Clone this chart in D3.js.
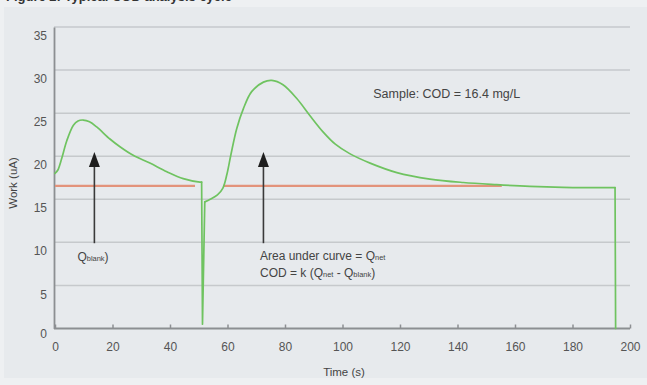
<!DOCTYPE html>
<html>
<head>
<meta charset="utf-8">
<script src="https://cdn.jsdelivr.net/npm/d3@7"></script>
<style>
  html, body { margin: 0; padding: 0; background: #eef0f2; }
  svg { display: block; font-family: "Liberation Sans", Arial, Helvetica, sans-serif; }
</style>
</head>
<body>
<svg id="chart" width="647" height="385"></svg>
<script>
// ---- data ----
// blank injection hump
const blankTime = [0, 1, 2.3, 4.1, 6.4, 8, 9.8, 12, 14.5, 19.1, 22.6, 27.2, 33.0, 38.9, 44.6, 50.4, 51.0];
const blankWork = [18.0, 18.4, 19.7, 21.8, 23.6, 24.1, 24.2, 24.0, 23.4, 22.0, 21.1, 20.1, 19.2, 18.2, 17.4, 17.0, 17.0];
// switch-over dip
const dipTime = [51.0, 51.3, 52.1];
const dipWork = [17.0, 0.5, 14.7];
// sample injection hump
const sampleTime = [52.1, 54, 56.5, 58.4, 59.8, 61.2, 63.2, 65.5, 68.4, 72.5, 75.4, 79.3, 84.1, 88.7, 93.3,
  97.5, 102.5, 109.6, 118.9, 130.4, 142, 153.6, 165.2, 176.7, 185, 194.8];
const sampleWork = [14.7, 15.0, 15.5, 16.3, 17.9, 20.2, 23.2, 25.5, 27.5, 28.6, 28.8, 28.3, 26.7, 24.7, 22.8,
  21.4, 20.3, 19.2, 18.1, 17.35, 16.95, 16.7, 16.5, 16.38, 16.35, 16.35];
// end of measurement drop
const endTime = [194.8, 195.0];
const endWork = [16.35, 0];
const baselineStart = [0, 58.5];
const baselineEnd = [48.7, 155.4];
const baselineValue = 16.55;
const arrowTimes = [13.7, 72.5];
const arrowFrom = 9.9, arrowTo = 20.5;
const xTicks = [0, 20, 40, 60, 80, 100, 120, 140, 160, 180, 200];
const yTicks = [0, 5, 10, 15, 20, 25, 30, 35];
const xTitle = "Time (s)";
const yTitle = "Work (uA)";
const chartTitle = "Figure 2: Typical COD analysis cycle";
const sampleLabel = "Sample: COD = 16.4 mg/L";

// ---- drawing ----
const svg = d3.select("#chart");
const W = 647, H = 385;

svg.append("rect").attr("x", 0).attr("y", 0).attr("width", W).attr("height", H).attr("fill", "#eef0f2");
svg.append("rect").attr("x", 4).attr("y", 7).attr("width", W - 4).attr("height", 371).attr("fill", "#e7eaed");

svg.append("text").attr("x", 6).attr("y", 0.5)
  .attr("font-size", 13).attr("font-weight", "bold").attr("fill", "#333")
  .text(chartTitle);

const x = d3.scaleLinear().domain([0, 200]).range([55, 630]);
const y = d3.scaleLinear().domain([0, 35]).range([328.5, 27]);

// grid lines
svg.append("g").selectAll("line").data(yTicks.filter(d => d > 0)).join("line")
  .attr("x1", 54).attr("x2", 630)
  .attr("y1", d => y(d)).attr("y2", d => y(d))
  .attr("stroke", "#c6c9cc").attr("stroke-width", 1.5);

// y axis
const yAxis = svg.append("g").attr("transform", "translate(54,0)")
  .call(d3.axisLeft(y).tickValues(yTicks).tickSize(0).tickPadding(7));
yAxis.select(".domain").attr("stroke", "#8c8f92").attr("stroke-width", 1.8);
yAxis.selectAll("text").attr("font-size", 12).attr("fill", "#555")
  .attr("font-family", "Liberation Sans, Arial, sans-serif")
  .attr("dy", d => d === 0 ? "0.75em" : "1.05em");

// x axis
const xAxis = svg.append("g").attr("transform", "translate(0,328.5)")
  .call(d3.axisBottom(x).tickValues(xTicks).tickSizeInner(-4).tickSizeOuter(0).tickPadding(14));
xAxis.select(".domain").attr("stroke", "#8c8f92").attr("stroke-width", 1.8)
  .attr("d", "M54,0H630");
xAxis.selectAll(".tick line").attr("stroke", "#8c8f92").attr("stroke-width", 1.5);
xAxis.selectAll("text").attr("font-size", 12).attr("fill", "#555")
  .attr("font-family", "Liberation Sans, Arial, sans-serif");

// baseline (red) segments
svg.append("g").selectAll("line").data(baselineStart).join("line")
  .attr("x1", d => x(d)).attr("x2", (d, i) => x(baselineEnd[i]))
  .attr("y1", y(baselineValue)).attr("y2", y(baselineValue))
  .attr("stroke", "#e3937b").attr("stroke-width", 2.2);

// green curve, drawn as smooth humps joined by straight drops
const smooth = d3.line().x(d => x(d[0])).y(d => y(d[1])).curve(d3.curveCatmullRom.alpha(0.5));
const straight = d3.line().x(d => x(d[0])).y(d => y(d[1]));
const segs = [
  [blankTime, blankWork, smooth],
  [dipTime, dipWork, straight],
  [sampleTime, sampleWork, smooth],
  [endTime, endWork, straight]
];
const cg = svg.append("g");
segs.forEach(([tt, ww, gen]) => {
  cg.append("path").datum(tt.map((t, i) => [t, ww[i]]))
    .attr("fill", "none").attr("stroke", "#6fc360").attr("stroke-width", 1.7)
    .attr("stroke-linejoin", "round").attr("stroke-linecap", "round")
    .attr("d", gen);
});

// arrows
const ag = svg.append("g");
arrowTimes.forEach(t => {
  const ax = x(t), yb = y(arrowFrom), yt = y(arrowTo);
  ag.append("line").attr("x1", ax).attr("x2", ax).attr("y1", yb).attr("y2", yt + 10)
    .attr("stroke", "#3a3a3a").attr("stroke-width", 1.6);
  ag.append("path")
    .attr("d", `M${ax},${yt} L${ax - 5.5},${yt + 15} L${ax + 5.5},${yt + 15} Z`)
    .attr("fill", "#1e1e1e");
});

// annotations
function subText(xv, yv, parts, size) {
  const t = svg.append("text").attr("x", x(xv)).attr("y", y(yv))
    .attr("font-size", size).attr("fill", "#444");
  parts.forEach(p => {
    t.append("tspan").attr("font-size", p.sub ? size * 0.62 : size).text(p.s);
  });
}
subText(7.8, 7.8, [{s: "Q"}, {s: "blank", sub: true}, {s: ")"}], 12);
subText(71.3, 7.9, [{s: "Area under curve = Q"}, {s: "net", sub: true}], 12);
subText(71.3, 5.95, [{s: "COD = k (Q"}, {s: "net", sub: true}, {s: " - Q"}, {s: "blank", sub: true}, {s: ")"}], 12);

svg.append("text").attr("x", x(110.7)).attr("y", y(26.7))
  .attr("font-size", 12.5).attr("fill", "#444").text(sampleLabel);

// axis titles
svg.append("text").attr("x", 344).attr("y", 376).attr("text-anchor", "middle")
  .attr("font-size", 11.5).attr("fill", "#444").text(xTitle);
svg.append("text").attr("transform", "translate(17,183) rotate(-90)").attr("text-anchor", "middle")
  .attr("font-size", 11.5).attr("fill", "#444").text(yTitle);
</script>
</body>
</html>
